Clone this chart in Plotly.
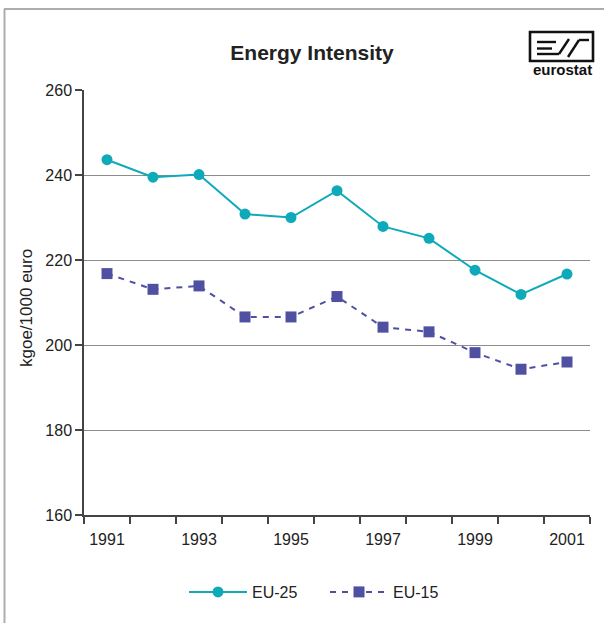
import plotly.graph_objects as go

years = ["1991", "1992", "1993", "1994", "1995", "1996", "1997", "1998", "1999", "2000", "2001"]
tick_labels = ["1991", "", "1993", "", "1995", "", "1997", "", "1999", "", "2001"]
eu25 = [243.6, 239.5, 240.1, 230.8, 230.0, 236.3, 227.9, 225.1, 217.6, 211.9, 216.7]
eu15 = [216.8, 213.1, 213.9, 206.6, 206.6, 211.4, 204.2, 203.1, 198.2, 194.3, 196.0]

W, H = 604, 623
L, R, T, B = 84, 590, 90, 515
FONT = "Liberation Sans, Arial, sans-serif"


def px(x):
    return (x - L) / (R - L)


def py(y):
    return (B - y) / (B - T)


fig = go.Figure()
fig.add_trace(go.Scatter(
    x=years, y=eu25, name="EU-25", mode="lines+markers",
    line=dict(color="#0FAAB9", width=2),
    marker=dict(symbol="circle", size=11, color="#0FAAB9"),
))
fig.add_trace(go.Scatter(
    x=years, y=eu15, name="EU-15", mode="lines+markers",
    line=dict(color="#5050A2", width=2, dash="6px,6px"),
    marker=dict(symbol="square", size=11, color="#5050A2"),
))

shapes = []
# outer frame lines (top and left)
shapes.append(dict(type="line", xref="paper", yref="paper",
                   x0=px(4), x1=px(604), y0=py(9), y1=py(9),
                   line=dict(color="#ADADAD", width=2)))
shapes.append(dict(type="line", xref="paper", yref="paper",
                   x0=px(4.5), x1=px(4.5), y0=py(9), y1=py(623),
                   line=dict(color="#ADADAD", width=2)))
# eurostat logo
shapes.append(dict(type="rect", xref="paper", yref="paper",
                   x0=px(530), x1=px(593), y0=py(32), y1=py(61),
                   line=dict(color="#111111", width=2.6)))
logo_lines = [
    (537, 42, 556, 42),
    (537, 48.5, 552, 48.5),
    (537, 54, 559, 54),
    (559, 54, 569, 39),
    (568, 57, 579, 40),
    (579, 40, 589, 40),
]
for x0, y0, x1, y1 in logo_lines:
    shapes.append(dict(type="line", xref="paper", yref="paper",
                       x0=px(x0), x1=px(x1), y0=py(y0), y1=py(y1),
                       line=dict(color="#111111", width=2.4)))

annotations = [
    dict(text="<b>eurostat</b>", xref="paper", yref="paper",
         x=px(562), y=py(70), xanchor="center", yanchor="middle",
         showarrow=False, font=dict(family=FONT, size=15, color="#111111")),
    dict(text="kgoe/1000 euro", xref="paper", yref="paper",
         x=px(26), y=py(308), xanchor="center", yanchor="middle",
         textangle=-90, showarrow=False,
         font=dict(family=FONT, size=17, color="#222222")),
]

fig.update_layout(
    width=W, height=H,
    margin=dict(l=L, r=W - R, t=T, b=H - B, pad=0, autoexpand=False),
    paper_bgcolor="white", plot_bgcolor="white",
    font=dict(family=FONT, size=16, color="#222222"),
    title=dict(text="<b>Energy Intensity</b>", xref="container", x=312 / W,
               xanchor="center", y=1 - 53 / H, yanchor="middle",
               font=dict(family=FONT, size=21, color="#222222")),
    showlegend=True,
    legend=dict(orientation="h", x=px(184), xanchor="left",
                y=py(592), yanchor="middle", itemwidth=58,
                entrywidth=68, entrywidthmode="pixels",
                font=dict(family=FONT, size=16, color="#222222"),
                traceorder="normal"),
    shapes=shapes,
    annotations=annotations,
)

fig.update_xaxes(
    type="category", tickmode="array", tickvals=years, ticktext=tick_labels,
    tickson="boundaries", ticks="outside", ticklen=7, tickwidth=1.5,
    tickcolor="#444444", showline=True, linecolor="#444444", linewidth=2,
    showgrid=False, range=[-0.5, 10.5], ticklabelstandoff=9, tickangle=0,
    tickfont=dict(family=FONT, size=16, color="#222222"),
)
fig.update_yaxes(
    range=[160, 260], dtick=20, tick0=160, ticks="outside", ticklen=7,
    tickwidth=1.5, tickcolor="#444444", showline=True, linecolor="#444444",
    linewidth=1.5, showgrid=True, gridcolor="#8C8C8C", gridwidth=1,
    zeroline=False,
    tickfont=dict(family=FONT, size=16, color="#222222"),
)

fig.write_html("out.html", config={"displayModeBar": False},
               post_script="document.body.style.margin='0px';")
